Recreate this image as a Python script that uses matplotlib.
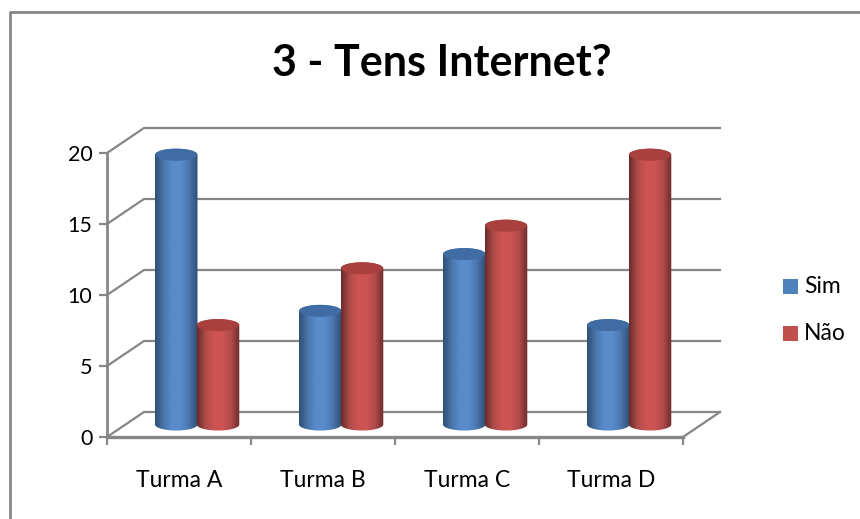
import numpy as np
import matplotlib
matplotlib.use("Agg")
import matplotlib.pyplot as plt
from matplotlib.colors import LinearSegmentedColormap
from matplotlib.lines import Line2D
from matplotlib.patches import Ellipse, Polygon, Rectangle

categories = ["Turma A", "Turma B", "Turma C", "Turma D"]
sim = [19, 8, 12, 7]
nao = [7, 11, 14, 19]
y_ticks = [0, 5, 10, 15, 20]

BLUE = ["#2f4f78", "#4a76ad", "#5a8bcb", "#5a8bcb", "#4a76ad", "#2f4f78"]
RED = ["#6b2b2a", "#b04c4a", "#cd5452", "#cd5452", "#b04c4a", "#6b2b2a"]
GREY = "#868686"

W, H = 860, 519
# floor depth of the pseudo 3d box, in data units
DX = 37 / 144
DY = 25 / 14.2
BAR_W = 42.5 / 144
CAP_H = 0.85

plt.rcParams["font.family"] = ["Lato", "DejaVu Sans"]
fig = plt.figure(figsize=(W / 100, H / 100), dpi=100)

# chart frame
fig.add_artist(Line2D([9.5 / W, 9.5 / W, 860 / W], [0, 1 - 12 / H, 1 - 12 / H], color=GREY, lw=2))

x0, x1 = 107, 107 + 144 * (4 + DX)
y0, y1 = 437, 437 - 14.2 * (20 + DY)
ax = fig.add_axes([x0 / W, 1 - y0 / H, (x1 - x0) / W, (y0 - y1) / H])
ax.set_xlim(0, 4 + DX)
ax.set_ylim(0, 20 + DY)
for s in ax.spines.values():
    s.set_visible(False)
ax.patch.set_visible(False)


def cylinder(x, value, colors, cap):
    # x is the left edge, the base sits half way into the floor
    left = x + DX / 2
    right = left + BAR_W
    cx = left + BAR_W / 2
    base = DY / 2
    top = base + value
    t = np.linspace(np.pi, 2 * np.pi, 40)
    bottom_x = cx + BAR_W / 2 * np.cos(t)
    bottom_y = base + CAP_H / 2 * np.sin(t)
    t2 = np.linspace(0, np.pi, 40)
    top_x = cx + BAR_W / 2 * np.cos(t2)
    top_y = top + CAP_H / 2 * np.sin(t2)
    body = Polygon(np.column_stack([np.r_[bottom_x, top_x], np.r_[bottom_y, top_y]]),
                   closed=True, fc="none", ec="none", transform=ax.transData)
    ax.add_patch(body)
    cmap = LinearSegmentedColormap.from_list("cyl", colors)
    im = ax.imshow(np.linspace(0, 1, 64)[None, :], cmap=cmap, aspect="auto", zorder=3,
                   extent=(left, right, base - CAP_H, top + CAP_H), interpolation="bilinear")
    im.set_clip_path(body)
    ax.add_patch(Ellipse((cx, top), BAR_W * 0.98, CAP_H, fc=cap, ec="none", zorder=4))


# walls and floor
for v in y_ticks:
    ax.plot([0, DX, 4 + DX], [v, v + DY, v + DY], color=GREY, lw=1.6, zorder=1, clip_on=False,
            solid_joinstyle="miter")
ax.plot([4, 4 + DX], [0, DY], color=GREY, lw=1.6, zorder=1, clip_on=False)
ax.plot([0, 0], [0, 20], color=GREY, lw=2, zorder=2, clip_on=False)
ax.plot([0, 4], [0, 0], color=GREY, lw=2.4, zorder=2, clip_on=False)

for i in range(len(categories)):
    cylinder(i + 0.5 - BAR_W, sim[i], BLUE, "#3f6ca3")
    cylinder(i + 0.5 - 0.005, nao[i], RED, "#a8403e")

ax.set_xlim(0, 4 + DX)
ax.set_ylim(0, 20 + DY)
ax.set_yticks(y_ticks)
ax.set_xticks(range(5))
ax.set_xticklabels([])
ax.set_xticks(np.arange(4) + 0.5, categories, minor=True)
ax.tick_params(axis="both", which="major", color=GREY, width=1.6, length=5.5, labelsize=15.5, pad=5)
ax.tick_params(axis="x", which="minor", length=0, labelsize=16.5, pad=24)
for lab in ax.get_yticklabels():
    lab.set_va("center_baseline")

fig.text(442 / W, 1 - 63 / H, "3 - Tens Internet?", ha="center", va="center",
         fontsize=31, fontweight="bold", color="black")

# legend
for name, col, yy in [("Sim", "#4f81bd", 286.5), ("Não", "#c0504d", 333.5)]:
    fig.add_artist(Rectangle((783 / W, 1 - (yy + 7.5) / H), 15 / W, 15 / H, fc=col, ec="none",
                             transform=fig.transFigure))
    fig.text(804 / W, 1 - yy / H, name, ha="left", va="center", fontsize=16.5)

fig.savefig("out.png", dpi=100)
